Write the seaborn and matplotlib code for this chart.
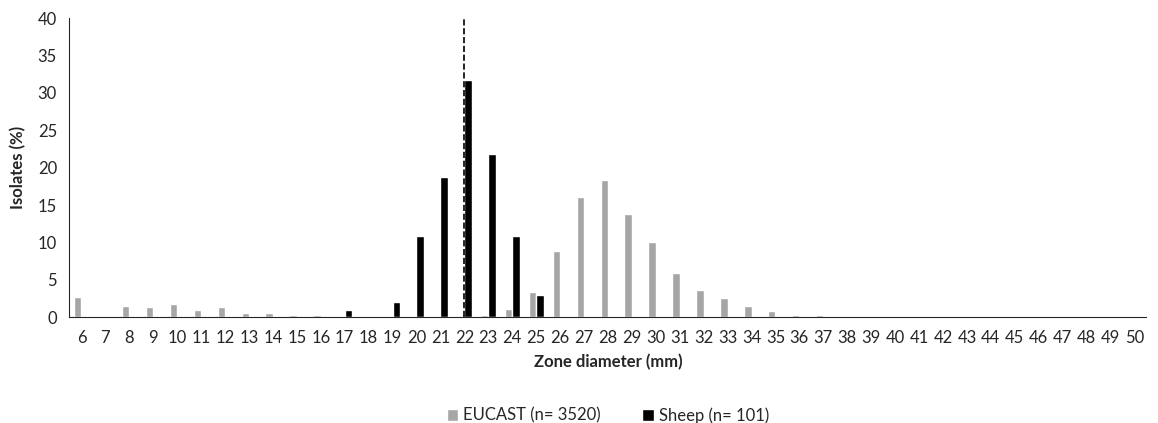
import matplotlib.pyplot as plt
import numpy as np
import pandas as pd
import seaborn as sns

diameters = list(range(6, 51))
eucast = [2.7, 0.2, 1.5, 1.4, 1.8, 1.0, 1.4, 0.6, 0.6, 0.3, 0.3, 0, 0, 0, 0, 0, 0,
          0.3, 1.1, 3.4, 8.9, 16.1, 18.3, 13.8, 10.0, 5.9, 3.7, 2.6, 1.5, 0.9, 0.3, 0.3] + [0] * 13
sheep = [0] * 11 + [1.0, 0, 2.0, 10.9, 18.8, 31.7, 21.8, 10.9, 3.0] + [0] * 25
breakpoint_mm = 22

df = pd.DataFrame({
    'Zone diameter': diameters * 2,
    'Isolates': eucast + sheep,
    'Group': ['EUCAST (n= 3520)'] * len(diameters) + ['Sheep (n= 101)'] * len(diameters),
})

sns.set_style('white')
plt.rcParams['font.family'] = ['Lato', 'DejaVu Sans']

fig, ax = plt.subplots(figsize=(11.58, 4.23), dpi=100)
sns.barplot(data=df, x='Zone diameter', y='Isolates', hue='Group',
            palette=['#a6a6a6', '#000000'], width=0.62, ax=ax)

# breakpoint marker
pos = diameters.index(breakpoint_mm)
ax.axvline(pos, ymin=0, ymax=1, color='black', linestyle='--', linewidth=1.2)

ax.set_ylim(0, 40)
ax.set_xlim(-0.5, len(diameters) - 0.5)
ax.set_yticks(range(0, 41, 5))
ax.tick_params(axis='both', length=0, labelsize=12, pad=9)
ax.set_xlabel('Zone diameter (mm)', fontsize=12, fontweight='bold', labelpad=6)
ax.set_ylabel('Isolates (%)', fontsize=12, fontweight='bold', labelpad=8)
sns.despine(ax=ax)

ax.legend(loc='upper center', bbox_to_anchor=(0.5, -0.25), ncol=2, frameon=False,
          fontsize=12, handlelength=0.7, handleheight=0.7, handletextpad=0.3,
          columnspacing=2.5)

plt.subplots_adjust(left=0.06, right=0.99, top=0.957, bottom=0.25)
plt.savefig('out.png')
